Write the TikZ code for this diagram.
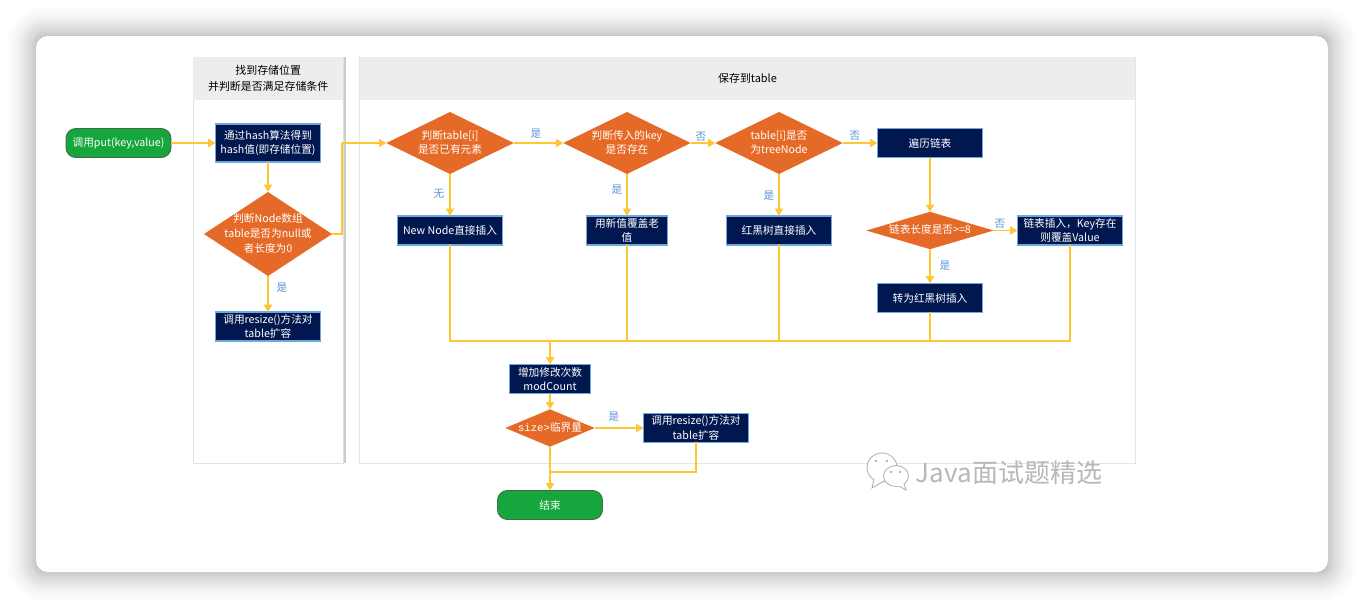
\documentclass[tikz,border=0pt]{standalone}
\usepackage{fontspec}
\setmainfont{Noto Sans CJK SC}
\newfontfamily\monolatin{Liberation Mono}
\usetikzlibrary{arrows.meta,shapes.geometric}
\definecolor{navy}{HTML}{00174F}
\definecolor{edgeblue}{HTML}{6FA8DC}
\definecolor{flowline}{HTML}{FFC633}
\definecolor{orangefill}{HTML}{E66A27}
\definecolor{greenfill}{HTML}{17A53E}
\definecolor{greenedge}{HTML}{3F6B45}
\definecolor{tagblue}{HTML}{5B94D6}
\definecolor{lanehead}{HTML}{EDEDED}
% zero-size text block so a diamond keeps its own dimensions
\newcommand\dtext[1]{\raisebox{-.58em}{\smash{\makebox[0pt]{\begin{tabular}[c]{@{}c@{}}#1\end{tabular}}}}}
\tikzset{
  x=0.75pt,y=-0.75pt,
  every node/.style={font=\fontsize{8}{11}\selectfont,outer sep=0pt},
  procbox/.style={draw=edgeblue,fill=navy,text=white,line width=0.8pt,align=center,
    minimum width=78.75pt,minimum height=21.75pt,inner sep=0pt},
  tallbox/.style={procbox,minimum height=28.5pt},
  narrowbox/.style={procbox,minimum width=60.75pt},
  terminal/.style={draw=greenedge,fill=greenfill,text=white,line width=0.7pt,rounded corners=7.5pt,
    minimum width=78.75pt,minimum height=21.75pt,inner sep=0pt},
  decision/.style={diamond,aspect=2,fill=orangefill,text=white,inner sep=0pt,
    minimum width=95.5pt,minimum height=46.5pt},
  flow/.style={draw=flowline,line width=1.3pt,-{Triangle[length=5.5pt,width=6pt]}},
  feeder/.style={draw=flowline,line width=1.3pt,line cap=round},
  tag/.style={text=tagblue,inner sep=0pt},
  lanehead/.style={fill=lanehead,text=black,align=center,inner sep=0pt,
    font=\fontsize{8.2}{11.5}\selectfont},
}
\begin{document}
\begin{tikzpicture}
\useasboundingbox (0,0) rectangle (1364,608);
\fill[white] (0,0) rectangle (1364,608);

% soft drop shadow of the card, denser towards its edge
\foreach \s in {36,35,...,1}{
  \pgfmathsetmacro{\shade}{0.012*(1-\s/37)}
  \pgfmathsetmacro{\corner}{(9+\s)*0.75}
  \fill[black,opacity=\shade,rounded corners=\corner pt]
    (36-\s,36-\s) rectangle (1328+\s,572+\s);
}
\fill[white,rounded corners=9pt] (36,36) rectangle (1328,572);

% swimlanes
\fill[black!20] (342.5,57) rectangle (345.5,463);
\draw[black!12,line width=0.5pt,fill=white] (193,57) rectangle (343,463);
\draw[black!10,line width=0.5pt,fill=white] (359.5,57) rectangle (1135.5,463);
\node[lanehead,minimum width=112.5pt,minimum height=32pt] (laneA) at (268.2,78.5) {找到存储位置\\并判断是否满足存储条件};
\node[lanehead,minimum width=581.6pt,minimum height=32pt] (laneB) at (747.5,78.5) {保存到table};

% nodes
\node[terminal] (start) at (118.5,143) {调用put(key,value)};
\node[tallbox] (hash) at (268,143) {通过hash算法得到\\hash值(即存储位置)};
\node[decision,minimum width=96pt,minimum height=63pt] (check) at (268,234) {\dtext{判断Node数组\\table是否为null或\\者长度为0}};
\node[procbox] (resizeA) at (268,326.5) {调用resize()方法对\\table扩容};

\node[decision] (hasElem) at (450,143) {\dtext{判断table[i]\\是否已有元素}};
\node[decision] (keyExists) at (627,143) {\dtext{判断传入的key\\是否存在}};
\node[decision] (isTree) at (779,143) {\dtext{table[i]是否\\为treeNode}};
\node[procbox] (walk) at (930,143) {遍历链表};

\node[procbox] (newNode) at (450,230.5) {New Node直接插入};
\node[narrowbox] (cover) at (627,230.5) {用新值覆盖老\\值};
\node[procbox] (treeIns) at (779,230.5) {红黑树直接插入};
\node[decision,minimum height=28pt] (length) at (930,230.5) {\dtext{链表长度是否>=8}};
\node[procbox] (listIns) at (1070,230.5) {链表插入，Key存在\\则覆盖Value};
\node[procbox] (toTree) at (930,298) {转为红黑树插入};

\node[narrowbox] (modCount) at (550,379) {增加修改次数\\modCount};
\node[decision,minimum width=67pt,minimum height=28pt] (size) at (550,428) {\dtext{{\monolatin size>}临界量}};
\node[procbox] (resizeB) at (696,428) {调用resize()方法对\\table扩容};
\node[terminal] (finish) at (550,505) {结束};

% junctions on the collecting lines
\coordinate (riser) at (342,143);
\coordinate (jA) at (450,341);
\coordinate (jB) at (627,341);
\coordinate (jC) at (779,341);
\coordinate (jD) at (930,341);
\coordinate (jE) at (1070,341);
\coordinate (jM) at (550,341);
\coordinate (jR) at (550,472);

% connectors
\draw[flow] (start.east) -- (hash.west);
\draw[flow] (hash.south) -- (check.north);
\draw[flow] (check.south) -- (resizeA.north);
\draw[feeder] (check.east) -| (riser);
\draw[flow] (riser) -- (hasElem.west);
\draw[flow] (hasElem.east) -- (keyExists.west);
\draw[flow] (keyExists.east) -- (isTree.west);
\draw[flow] (isTree.east) -- (walk.west);
\draw[flow] (hasElem.south) -- (newNode.north);
\draw[flow] (keyExists.south) -- (cover.north);
\draw[flow] (isTree.south) -- (treeIns.north);
\draw[flow] (walk.south) -- (length.north);
\draw[flow] (length.east) -- (listIns.west);
\draw[flow] (length.south) -- (toTree.north);
\draw[feeder] (newNode.south) -- (jA);
\draw[feeder] (cover.south) -- (jB);
\draw[feeder] (treeIns.south) -- (jC);
\draw[feeder] (toTree.south) -- (jD);
\draw[feeder] (listIns.south) -- (jE);
\draw[feeder] (jA) -- (jE);
\draw[flow] (jM) -- (modCount.north);
\draw[flow] (modCount.south) -- (size.north);
\draw[flow] (size.east) -- (resizeB.west);
\draw[flow] (size.south) -- (finish.north);
\draw[feeder] (resizeB.south) |- (jR);

% branch labels
\node[tag] (t1) at (282,288) {是};
\node[tag] (t2) at (536,133.5) {是};
\node[tag] (t3) at (701,136.5) {否};
\node[tag] (t4) at (855,136) {否};
\node[tag] (t5) at (439,193.5) {无};
\node[tag] (t6) at (617,189.5) {是};
\node[tag] (t7) at (769,196) {是};
\node[tag] (t8) at (1000,223.5) {否};
\node[tag] (t9) at (945,265.5) {是};
\node[tag] (t10) at (614,416.5) {是};

% corner signature: two speech bubbles and the account name
\draw[black!32,fill=white,line width=0.6pt] (882,467.5) ellipse (15 and 14.5);
\draw[black!32,fill=white,line width=0.6pt] (874,479) -- (872,488) -- (884,481);
\draw[black!32,fill=white,line width=0.6pt] (896,476) ellipse (12.5 and 10.5);
\draw[black!32,fill=white,line width=0.6pt] (899,486) -- (906,490) -- (904,484);
\fill[white] (893,484) rectangle (903,485.5);
\foreach \ex/\ey in {876/461,887/461,891/472,900/472}{
  \fill[black!30] (\ex,\ey) circle (1.3);
}
\node[text=black!28,inner sep=0pt,font=\fontsize{19.5}{22}\selectfont] (mark) at (1009,473) {Java面试题精选};
\end{tikzpicture}
\end{document}
